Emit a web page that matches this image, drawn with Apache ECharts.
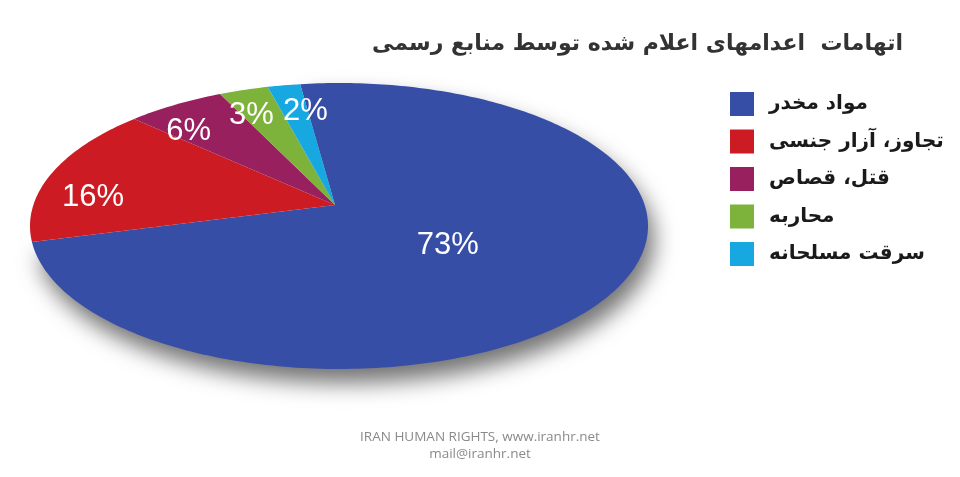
<!DOCTYPE html>
<html dir="ltr"><head><meta charset="utf-8">
<script src="https://cdn.jsdelivr.net/npm/echarts@6/dist/echarts.min.js"></script>
<style>html,body{margin:0;padding:0;background:#fff}#c{width:960px;height:477px}</style>
</head><body><div id="c"></div>
<script>
// ---- data ----
const categories = ['مواد مخدر', 'تجاوز، آزار جنسی', 'قتل، قصاص', 'محاربه', 'سرقت مسلحانه'];
const shares = [73, 16, 6, 3, 2];
const colors = ['#374ea6', '#cc1b22', '#98205f', '#7db33b', '#17a8e2'];
const titleText = 'اتهامات  اعدامهای اعلام شده توسط منابع رسمی';
const footerLines = ['IRAN HUMAN RIGHTS, www.iranhr.net', 'mail@iranhr.net'];

// ---- layout ----
const START = 97.6;               // start angle (deg), slices run clockwise
const CX = 339, CY = 226, RX = 309, RY = 143;  // ellipse of the tilted pie
const AX = 335, AY = 205;         // apex where slices meet (tilted view)
const LABEL_W = 54;               // min horizontal spacing between neighbouring labels
const total = shares.reduce((a, b) => a + b, 0);
const UX = (AX - CX) / RX, UY = (AY - CY) / RY;

function angles(i) {
  const before = shares.slice(0, i).reduce((a, b) => a + b, 0);
  const a0 = START - before / total * 360;
  return [a0, a0 - shares[i] / total * 360];
}

// point on the ellipse rim reached from the apex in direction theta (deg)
function rim(theta) {
  const r = theta * Math.PI / 180;
  const wx = Math.cos(r), wy = -Math.sin(r);
  const d = UX * wx + UY * wy;
  const t = -d + Math.sqrt(d * d - (UX * UX + UY * UY) + 1);
  return { x: CX + RX * (UX + t * wx), y: CY + RY * (UY + t * wy) };
}

const labelCache = {};
function labelPos(i) {
  if (labelCache[i]) return labelCache[i];
  const [a0, a1] = angles(i);
  const am = (a0 + a1) / 2;
  let p;
  if (shares[i] / total > 0.5) {
    const e = rim(am);
    const ox = (AX + CX) / 2, oy = (AY + CY) / 2;
    p = { x: ox + (e.x - ox) * 0.4, y: oy + (e.y - oy) * 0.4 };
  } else {
    const r = am * Math.PI / 180;
    p = { x: CX + RX * Math.cos(r) * 0.82, y: CY - RY * Math.sin(r) * 0.82 };
    // push away from the previous (counter-clockwise neighbour's) label if they collide
    if (i > 1) {
      const q = labelPos(i - 1);
      if (Math.abs(q.y - p.y) < 30 && Math.abs(q.x - p.x) < LABEL_W) {
        p.x = q.x + (p.x >= q.x ? LABEL_W : -LABEL_W);
      }
    }
  }
  labelCache[i] = p;
  return p;
}

function renderSlice(params, api) {
  const i = params.seriesIndex;
  const v = api.value(0);
  const [a0, a1] = angles(i);
  const pts = [[AX, AY]];
  const n = Math.max(2, Math.ceil(Math.abs(a1 - a0)));
  for (let k = 0; k <= n; k++) {
    const p = rim(a0 + (a1 - a0) * k / n);
    pts.push([p.x, p.y]);
  }
  const lp = labelPos(i);
  const style = { fill: api.visual('color') };
  if (i === 0) {
    style.shadowBlur = 22; style.shadowColor = 'rgba(0,0,0,0.55)';
    style.shadowOffsetX = 6; style.shadowOffsetY = 14;
  }
  return {
    type: 'group',
    children: [
      { type: 'polygon', shape: { points: pts }, style: style },
      { type: 'text', z2: 10, style: {
          text: v + '%', x: lp.x, y: lp.y,
          fill: '#ffffff', font: '31px "Liberation Sans", Arial, sans-serif',
          align: 'center', verticalAlign: 'middle' } }
    ]
  };
}

const chart = echarts.init(document.getElementById('c'), null, { renderer: 'canvas' });
chart.setOption({
  animation: false,
  color: colors,
  title: {
    text: titleText, left: 372, top: 33, padding: 0,
    textStyle: { fontSize: 22, fontWeight: 'bold', color: '#333', fontFamily: '"DejaVu Sans", sans-serif' }
  },
  legend: {
    orient: 'vertical', left: 730, top: 92, padding: 0,
    icon: 'rect', itemWidth: 24, itemHeight: 24, itemGap: 13.5,
    data: categories,
    textStyle: { fontSize: 20, fontWeight: 'bold', lineHeight: 24, color: '#1a1a1a', fontFamily: '"DejaVu Sans", sans-serif', padding: [0, 0, 0, 10] }
  },
  graphic: footerLines.map((t, k) => ({
    type: 'text', left: 'center', top: 430 + k * 17,
    style: { text: t, fill: '#8a8a8a', font: '13.5px "Open Sans", sans-serif' }
  })),
  series: categories.map((name, i) => ({
    type: 'custom', name: name, coordinateSystem: 'none',
    itemStyle: { color: colors[i] },
    renderItem: renderSlice,
    data: [[shares[i]]]
  }))
});
</script></body></html>
